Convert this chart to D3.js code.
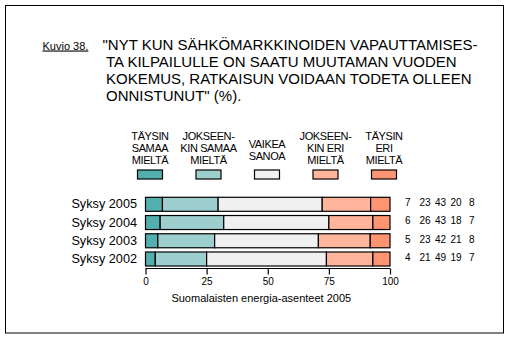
<!DOCTYPE html>
<html>
<head>
<meta charset="utf-8">
<script src="https://cdn.jsdelivr.net/npm/d3@7"></script>
<style>
  html, body { margin: 0; padding: 0; background: #fff; }
  svg { display: block; font-family: "Liberation Sans", Arial, sans-serif; }
</style>
</head>
<body>
<svg id="chart" width="509" height="338"></svg>
<script>
// Survey rows, top to bottom
const categories = ["Syksy 2005", "Syksy 2004", "Syksy 2003", "Syksy 2002"];

// Answer shares (%) per answer option, one value per survey row
const taysinSamaa     = [7, 6, 5, 4];
const jokseenkinSamaa = [23, 26, 23, 21];
const vaikeaSanoa     = [43, 43, 42, 49];
const jokseenkinEri   = [20, 18, 21, 19];
const taysinEri       = [8, 7, 8, 7];

// Legend labels, split into the lines shown above each swatch
const legendLabels = [
  ["TÄYSIN", "SAMAA", "MIELTÄ"],
  ["JOKSEEN-", "KIN SAMAA", "MIELTÄ"],
  ["VAIKEA", "SANOA"],
  ["JOKSEEN-", "KIN ERI", "MIELTÄ"],
  ["TÄYSIN", "ERI", "MIELTÄ"]
];

const axisTicks = [0, 25, 50, 75, 100];

const titleLines = [
  "\"NYT KUN SÄHKÖMARKKINOIDEN VAPAUTTAMISES-",
  "TA KILPAILULLE ON SAATU MUUTAMAN VUODEN",
  "KOKEMUS, RATKAISUN VOIDAAN TODETA OLLEEN",
  "ONNISTUNUT\" (%)."
];
const figureLabel = "Kuvio 38.";
const sourceText = "Suomalaisten energia-asenteet 2005";

const colors = ["#53aeae", "#9dcfcf", "#f0f0f0", "#ffb49c", "#ff9473"];

const series = [taysinSamaa, jokseenkinSamaa, vaikeaSanoa, jokseenkinEri, taysinEri];

// Each row is drawn as shares of its own total, so every bar spans 0-100
const rows = categories.map((c, i) => {
  const vals = series.map(s => s[i]);
  const total = d3.sum(vals);
  let acc = 0;
  const segs = vals.map((v, k) => {
    const seg = { k, v, x0: acc / total * 100, x1: (acc + v) / total * 100 };
    acc += v;
    return seg;
  });
  return { category: c, vals, segs };
});

const svg = d3.select("#chart");

// Outer frame
svg.append("rect")
  .attr("x", 5.5).attr("y", 5.5)
  .attr("width", 498).attr("height", 327.5)
  .attr("fill", "none").attr("stroke", "#000").attr("stroke-width", 1);

// Title
svg.append("text")
  .attr("x", 42.5).attr("y", 49.5)
  .attr("font-size", 11)
  .style("text-decoration", "underline")
  .text(figureLabel);

svg.append("g").selectAll("text")
  .data(titleLines)
  .join("text")
  .attr("x", (d, i) => i === 0 ? 102.5 : 106)
  .attr("y", (d, i) => 49.5 + i * 17)
  .attr("font-size", 15)
  .text(d => d);

// Scales
const x = d3.scaleLinear().domain([0, 100]).range([145.5, 390]);
const y = d3.scaleBand().domain(categories).range([197.3, 266]).paddingInner(0.232).paddingOuter(0);

// Legend
const legendX = d3.scalePoint().domain(d3.range(5)).range([150, 384]);
const legend = svg.append("g").selectAll("g")
  .data(legendLabels)
  .join("g")
  .attr("transform", (d, i) => `translate(${legendX(i)},0)`);

legend.append("rect")
  .attr("x", -12.5).attr("y", 170)
  .attr("width", 25).attr("height", 9)
  .attr("fill", (d, i) => colors[i])
  .attr("stroke", "#000").attr("stroke-width", 1.2);

legend.each(function (lines) {
  const base = lines.length === 3 ? 140 : 148;
  d3.select(this).selectAll("text")
    .data(lines)
    .join("text")
    .attr("x", 0)
    .attr("y", (d, j) => base + j * 12)
    .attr("text-anchor", "middle")
    .attr("font-size", 11)
    .attr("letter-spacing", "-0.4px")
    .text(d => d);
});

// Bars
const barRows = svg.append("g").selectAll("g")
  .data(rows)
  .join("g")
  .attr("transform", d => `translate(0,${y(d.category)})`);

barRows.selectAll("rect")
  .data(d => d.segs)
  .join("rect")
  .attr("x", d => x(d.x0))
  .attr("width", d => x(d.x1) - x(d.x0))
  .attr("y", 0)
  .attr("height", y.bandwidth())
  .attr("fill", d => colors[d.k])
  .attr("stroke", "#000")
  .attr("stroke-width", 1.2);

// Row labels
barRows.append("text")
  .attr("x", 137)
  .attr("y", y.bandwidth() / 2 + 4)
  .attr("text-anchor", "end")
  .attr("font-size", 12.7)
  .text(d => d.category);

// Value columns to the right of the bars
const valueCols = [405, 419.5, 435, 450.5, 469];
barRows.selectAll("text.val")
  .data(d => d.vals)
  .join("text")
  .attr("class", "val")
  .attr("x", (d, k) => valueCols[k])
  .attr("y", y.bandwidth() / 2 + 1.8)
  .attr("font-size", 10)
  .text(d => d);

// Axis
const axis = d3.axisBottom(x).tickValues(axisTicks).tickSize(6).tickPadding(3).tickFormat(d3.format("d"));
const axisG = svg.append("g")
  .attr("transform", "translate(0,268.5)")
  .call(axis);
axisG.select(".domain").attr("d", `M${x(0)},0H${x(100)}`).attr("stroke-width", 1.2);
axisG.selectAll(".tick line").attr("stroke-width", 1.2);
axisG.selectAll(".tick text")
  .attr("font-size", 10)
  .attr("font-family", "Liberation Sans, Arial, sans-serif")
  .attr("fill", "#000");

// Source line
svg.append("text")
  .attr("x", 261.3).attr("y", 301.5)
  .attr("text-anchor", "middle")
  .attr("font-size", 11)
  .text(sourceText);
</script>
</body>
</html>
